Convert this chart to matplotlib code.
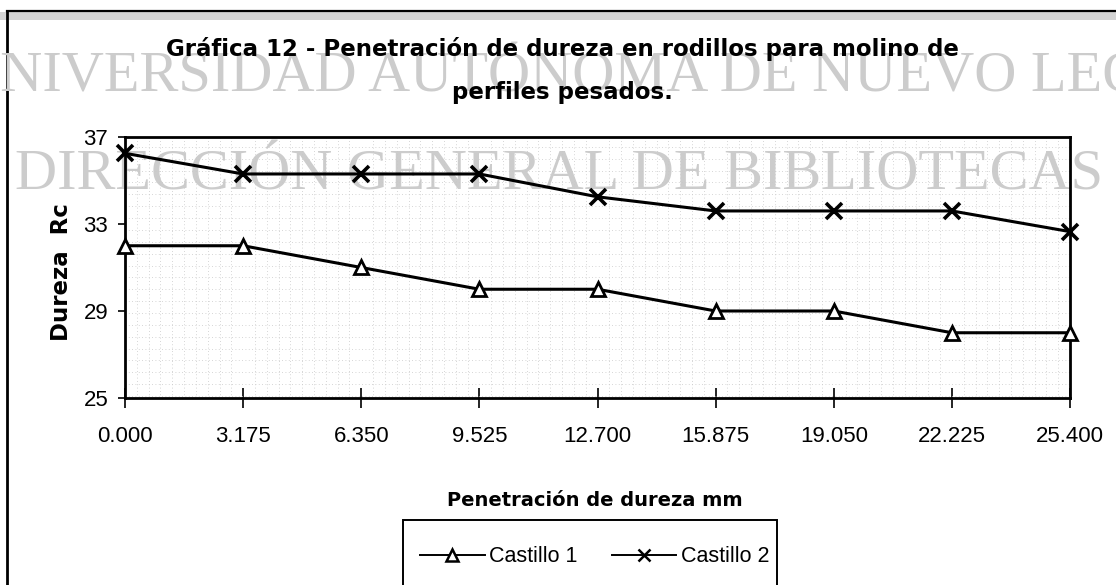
import matplotlib
matplotlib.use("Agg")
import matplotlib.pyplot as plt
from matplotlib.lines import Line2D
from matplotlib.patches import Rectangle
from matplotlib.ticker import MultipleLocator

# Hardness penetration data (mm depth vs Rockwell C)
penetracion = [0.000, 3.175, 6.350, 9.525, 12.700, 15.875, 19.050, 22.225, 25.400]
tick_labels = ["0.000", "3.175", "6.350", "9.525", "12.700", "15.875", "19.050", "22.225", "25.400"]
castillo_1 = [32.0, 32.0, 31.0, 30.0, 30.0, 29.0, 29.0, 28.0, 28.0]
castillo_2 = [36.25, 35.3, 35.3, 35.3, 34.25, 33.6, 33.6, 33.6, 32.65]
y_ticks = [25, 29, 33, 37]

W, H = 1116, 585
fig = plt.figure(figsize=(W / 100, H / 100), dpi=100)
fig.patch.set_facecolor("white")


def fx(px):
    return px / W


def fy(py):
    return 1 - py / H


# page frame: thin rule with grey band on top, rule at left
fig.add_artist(Rectangle((0, fy(20)), 1, fy(12) - fy(20), transform=fig.transFigure,
                         facecolor="#d4d4d4", edgecolor="none", zorder=-3))
fig.add_artist(Line2D([fx(7), 1], [fy(11), fy(11)], transform=fig.transFigure,
                      color="black", lw=1.6, zorder=-2))
fig.add_artist(Line2D([fx(7), fx(7)], [fy(11), 0], transform=fig.transFigure,
                      color="black", lw=2.0, zorder=-2))

# library watermark
wm_kw = dict(family="Liberation Serif", fontsize=42, color="#cccccc",
             ha="left", va="baseline", zorder=-1)
fig.text(fx(-42), fy(91), "UNIVERSIDAD AUTÓNOMA DE NUEVO LEÓN", **wm_kw)
fig.text(fx(15), fy(190), "DIRECCIÓN GENERAL DE BIBLIOTECAS", **wm_kw)

ax = fig.add_axes([fx(125), fy(398), fx(1070) - fx(125), fy(137) - fy(398)])
ax.set_facecolor("none")

ax.plot(penetracion, castillo_1, color="black", lw=2.2, marker="^", ms=10,
        mfc="white", mec="black", mew=2.0, label="Castillo 1", clip_on=False, zorder=4)
ax.plot(penetracion, castillo_2, color="black", lw=2.2, marker="x", ms=12,
        mew=2.6, label="Castillo 2", clip_on=False, zorder=4)

ax.set_xlim(0, 25.4)
ax.set_ylim(25, 37)
ax.set_xticks(penetracion)
ax.set_xticklabels(tick_labels)
ax.set_yticks(y_ticks)

# faint dotted background grid
ax.xaxis.set_minor_locator(MultipleLocator(25.4 / 80))
ax.yaxis.set_minor_locator(MultipleLocator(12 / 22))
ax.grid(which="minor", color="#c8c8c8", lw=0.6, linestyle=(0, (1, 3)))
ax.set_axisbelow(True)

for s in ax.spines.values():
    s.set_linewidth(2.0)
    s.set_color("black")

for lab in ax.get_xticklabels() + ax.get_yticklabels():
    lab.set_fontfamily("Liberation Sans")
    lab.set_fontsize(16)
ax.tick_params(axis="x", which="major", direction="inout", length=14, width=1.2, pad=13)
ax.tick_params(axis="y", which="major", direction="out", length=5, width=1.2, pad=7)
ax.tick_params(which="minor", length=0)

label_kw = dict(family="DejaVu Sans", fontweight="bold", ha="center", va="center")
fig.text(fx(595), fy(500), "Penetración de dureza mm", fontsize=14, **label_kw)
fig.text(fx(61), fy(272), "Dureza  Rc", fontsize=16.5, rotation=90, **label_kw)

title_kw = dict(family="DejaVu Sans", fontsize=16.5, fontweight="bold",
                ha="center", va="baseline")
fig.text(fx(562), fy(56), "Gráfica 12 - Penetración de dureza en rodillos para molino de",
         **title_kw)
fig.text(fx(562), fy(99), "perfiles pesados.", **title_kw)

# legend box runs past the lower page edge
fig.add_artist(Rectangle((fx(403), fy(600)), fx(777) - fx(403), fy(520) - fy(600),
                         transform=fig.transFigure, facecolor="white",
                         edgecolor="black", lw=1.4, zorder=1))
leg = fig.legend(loc="center left", bbox_to_anchor=(fx(420), fy(557)), ncol=2,
                 prop=dict(family="Liberation Sans", size=15.5), frameon=False,
                 borderpad=0, handlelength=3.0, handletextpad=0.2,
                 columnspacing=1.6, borderaxespad=0)
leg.set_zorder(2)
for h in leg.legend_handles:
    h.set_linewidth(1.4)
    h.set_markersize(9)
    h.set_markeredgewidth(1.8)

fig.savefig("out.png", dpi=100)
